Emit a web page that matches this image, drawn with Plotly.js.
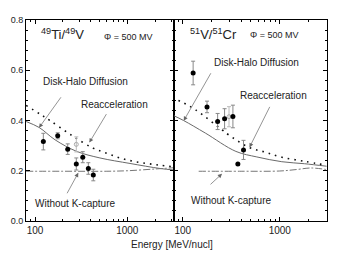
<!DOCTYPE html>
<html><head><meta charset="utf-8">
<script src="https://cdn.plot.ly/plotly-3.0.1.min.js"></script>
<style>body{margin:0;background:#fff}#c{width:344px;height:266px}</style>
</head><body><div id="c"></div>
<script>
// ---- Left panel: 49Ti/49V ----
const tiE   = [123, 176, 226, 280, 329, 378, 428];
const tiR   = [0.316, 0.339, 0.286, 0.227, 0.254, 0.209, 0.183];
const tiErr = [0.033, 0.012, 0.021, 0.024, 0.022, 0.023, 0.023];
const tiOpenE = [280], tiOpenR = [0.305], tiOpenErr = [0.03];

const tiDiffE = [80, 111, 165, 283, 505, 1070, 2260, 3200];
const tiDiffR = [0.396, 0.372, 0.323, 0.277, 0.251, 0.229, 0.209, 0.203];
const tiReacE = [80, 116, 145, 240, 425, 605, 830, 1150, 1630, 2260, 3200];
const tiReacR = [0.46, 0.423, 0.40, 0.345, 0.29, 0.269, 0.251, 0.238, 0.229, 0.222, 0.215];
const tiNoKE  = [80, 200, 600, 1000, 2000, 3200];
const tiNoKR  = [0.198, 0.198, 0.198, 0.200, 0.207, 0.212];

// ---- Right panel: 51V/51Cr ----
const vE   = [128, 178, 229, 270, 329, 423, 370];
const vR   = [0.589, 0.454, 0.396, 0.407, 0.416, 0.283, 0.227];
const vErr = [0.047, 0.023, 0.032, 0.040, 0.045, 0.038, 0];
const vOpenE = [300], vOpenR = [0.415], vOpenErr = [0.04];

const vDiffE = [80, 102, 171, 353, 580, 1050, 1800, 3040];
const vDiffR = [0.42, 0.40, 0.35, 0.277, 0.255, 0.236, 0.228, 0.218];
const vReacE = [78, 102, 135, 254, 297, 476, 706, 1050, 1820, 3000];
const vReacR = [0.49, 0.47, 0.443, 0.363, 0.343, 0.294, 0.274, 0.254, 0.237, 0.222];
const vNoKE  = [146, 400, 1000, 1500, 2100, 3000];
const vNoKR  = [0.198, 0.198, 0.199, 0.205, 0.211, 0.205];

const xTickVals = [100, 1000];
const xTickText = ['100', '1000'];
const xMinorVals = [80, 90, 200, 300, 400, 500, 600, 700, 800, 900, 2000, 3000];
const yTickVals = [0, 0.2, 0.4, 0.6, 0.8];
const yTickText = ['0.0', '0.2', '0.4', '0.6', '0.8'];

const FONT = 'Liberation Sans, Arial, sans-serif';
const lineSolid = {color:'#6a6a6a', width:1};
const lineDot = {color:'#111', width:1.6, dash:'1.6px,5px'};
const lineDashDot = {color:'#777', width:1, dash:'7px,2px,2px,2px'};
const errStyle = {type:'data', visible:true, color:'#888', thickness:1, width:2};

function curves(xa, ya, dE, dR, rE, rR, nE, nR){
  return [
    {x:dE, y:dR, xaxis:xa, yaxis:ya, mode:'lines', line:Object.assign({shape:'spline'}, lineSolid), hoverinfo:'skip'},
    {x:rE, y:rR, xaxis:xa, yaxis:ya, mode:'lines', line:Object.assign({shape:'spline'}, lineDot), hoverinfo:'skip'},
    {x:nE, y:nR, xaxis:xa, yaxis:ya, mode:'lines', line:Object.assign({shape:'spline'}, lineDashDot), hoverinfo:'skip'}
  ];
}
function points(xa, ya, E, R, err, openE, openR, openErr){
  return [
    {x:openE, y:openR, xaxis:xa, yaxis:ya, mode:'markers',
     marker:{symbol:'circle-open', size:4, color:'#aaa', line:{width:1}},
     error_y:Object.assign({array:openErr}, errStyle, {color:'#bbb'})},
    {x:E, y:R, xaxis:xa, yaxis:ya, mode:'markers',
     marker:{symbol:'circle', size:5, color:'#000'},
     error_y:Object.assign({array:err}, errStyle)}
  ];
}

const data = [].concat(
  curves('x','y', tiDiffE, tiDiffR, tiReacE, tiReacR, tiNoKE, tiNoKR),
  points('x','y', tiE, tiR, tiErr, tiOpenE, tiOpenR, tiOpenErr),
  curves('x2','y2', vDiffE, vDiffR, vReacE, vReacR, vNoKE, vNoKR),
  points('x2','y2', vE, vR, vErr, vOpenE, vOpenR, vOpenErr)
);

const L = 26, T = 20, W = 301, H = 201;
const px = v => (v - L) / W;
const py = v => (221 - v) / H;
const split = px(174);

function xAxis(domain, range){
  return {type:'log', domain:domain, range:range, showline:true, linecolor:'#000', linewidth:1,
    mirror:'ticks', ticks:'inside', ticklen:4, tickcolor:'#000', tickwidth:1,
    tickmode:'array', tickvals:xTickVals, ticktext:xTickText,
    minor:{tickmode:'array', tickvals:xMinorVals, ticks:'inside', ticklen:2, tickcolor:'#000'},
    showgrid:false, zeroline:false, tickfont:{size:10, color:'#222', family:FONT}};
}
function yAxis(anchor, labels){
  return {range:[0, 0.8], anchor:anchor, showline:true, linecolor:'#000', linewidth:1,
    mirror:'ticks', ticks:'inside', ticklen:4, tickcolor:'#000',
    tickmode:'array', tickvals:yTickVals, ticktext:yTickText, showticklabels:labels,
    minor:{dtick:0.04, ticks:'inside', ticklen:2, tickcolor:'#000'},
    showgrid:false, zeroline:false, tickfont:{size:9, color:'#222', family:FONT}};
}

const ann = [];
function label(text, x, y, size){
  ann.push({text:text, xref:'paper', yref:'paper', x:px(x), y:py(y), xanchor:'center', yanchor:'middle',
    showarrow:false, font:{size:size, color:'#222', family:FONT}});
}
function arrow(xa, ya, logx, yv, ax, ay){
  ann.push({text:'', xref:xa, yref:ya, x:logx, y:yv, ax:ax, ay:ay, showarrow:true,
    arrowhead:2, arrowsize:1.2, arrowwidth:0.7, arrowcolor:'#666'});
}
label('<sup>49</sup>Ti/<sup>49</sup>V', 62, 34, 13);
label('Φ = 500 MV', 128, 37, 9);
label('Disk-Halo Diffusion', 85, 81, 10);
label('Reacceleration', 114, 104, 10);
label('Without K-capture', 75, 203, 10);
label('<sup>51</sup>V/<sup>51</sup>Cr', 213, 34, 13);
label('Φ = 500 MV', 274, 35, 9);
label('Disk-Halo Diffusion', 256, 62, 10);
label('Reacceleration', 273, 95, 10);
label('Without K-capture', 231, 200, 10);
arrow('x','y', 2.043, 0.371, 23, -32);
arrow('x','y', 2.588, 0.312, 18, -30);
arrow('x','y', 2.469, 0.192, -12, 22);
arrow('x2','y2', 2.01, 0.399, 28, -49);
arrow('x2','y2', 2.688, 0.293, 21, -42);
arrow('x2','y2', 2.405, 0.188, -13, 12);
ann.push({text:'Energy [MeV/nucl]', xref:'paper', yref:'paper', x:px(172), y:py(245),
  xanchor:'center', yanchor:'middle', showarrow:false, font:{size:10, color:'#222', family:FONT}});

const layout = {
  width:344, height:266, margin:{l:L, r:344-327, t:T, b:266-221},
  paper_bgcolor:'#fff', plot_bgcolor:'#fff', showlegend:false,
  font:{family:FONT, color:'#222'},
  xaxis: xAxis([0, split], [1.902, 3.506]),
  yaxis: yAxis('x', true),
  xaxis2: xAxis([split, 1], [1.91, 3.487]),
  yaxis2: yAxis('x2', false),
  annotations: ann
};
layout.xaxis.anchor = 'y';
layout.xaxis2.anchor = 'y2';
Plotly.newPlot('c', data, layout, {staticPlot:true});
</script></body></html>
